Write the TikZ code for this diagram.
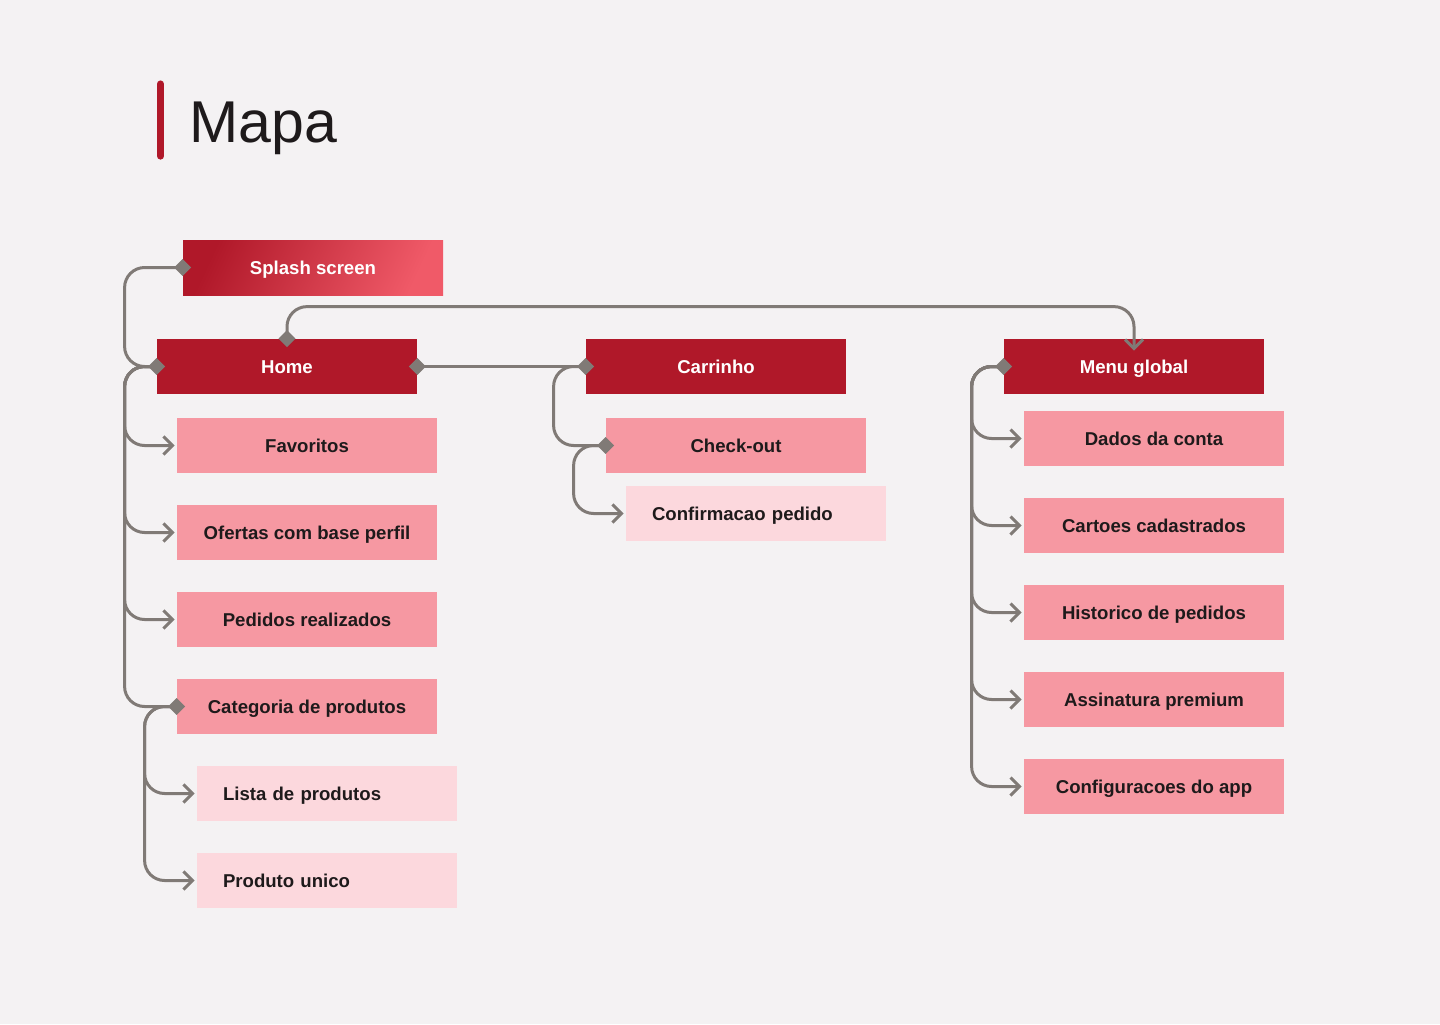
\documentclass[tikz,border=0pt]{standalone}
\usepackage{fontspec}
\setmainfont{Liberation Sans}
\usetikzlibrary{arrows.meta}
\definecolor{bgpaper}{RGB}{244,242,243}
\definecolor{darkred}{RGB}{176,24,41}
\definecolor{splashlight}{RGB}{240,90,104}
\definecolor{midpink}{RGB}{246,152,162}
\definecolor{lightpink}{RGB}{252,216,221}
\definecolor{linkgray}{RGB}{128,122,118}
\definecolor{inkblack}{RGB}{30,26,27}

\begin{document}
\begin{tikzpicture}[x=0.5pt,y=-0.5pt,font=\fontsize{9.3}{11}\selectfont\bfseries,
  box/.style={minimum width=130pt,minimum height=27.5pt,inner sep=0pt,align=center,
    text height=6.7pt,text depth=0pt},
  mainbox/.style={box,fill=darkred,text=white},
  subbox/.style={box,fill=midpink,text=inkblack},
  leafbox/.style={box,fill=lightpink,text=inkblack,text width=104pt,inner xsep=13pt,align=left},
  link/.style={draw=linkgray,line width=1.5pt,rounded corners=10pt},
  linkto/.style={link,-{Straight Barb[length=4.5pt,width=9pt,line width=1.5pt]},shorten >=1pt},
  joint/.style={fill=linkgray,rotate=45,minimum size=6pt,inner sep=0pt}]
\useasboundingbox[fill=bgpaper] (0,0) rectangle (1440,1024);
% title
\draw[darkred,line width=3.6pt,line cap=round] (160.5,84) -- (160.5,156);
\node[anchor=base west,font=\fontsize{29.5}{32}\selectfont,text=inkblack,inner sep=0pt] (title) at (189,142) {Mapa};
% boxes
\node[mainbox,shading=axis,left color=darkred,right color=splashlight,shading angle=65] (splash) at (313,267.5) {Splash screen};
\node[mainbox] (home) at (287,366.5) {Home};
\node[mainbox] (carrinho) at (716,366.5) {Carrinho};
\node[mainbox] (menu) at (1134,366.5) {Menu global};
\node[subbox] (favoritos) at (307,445.5) {Favoritos};
\node[subbox] (ofertas) at (307,532.5) {Ofertas com base perfil};
\node[subbox] (pedidos) at (307,619.5) {Pedidos realizados};
\node[subbox] (categoria) at (307,706.5) {Categoria de produtos};
\node[leafbox] (lista) at (327,793.5) {Lista de produtos};
\node[leafbox] (produto) at (327,880.5) {Produto unico};
\node[subbox] (checkout) at (736,445.5) {Check-out};
\node[leafbox] (confirma) at (756,513.5) {Confirmacao pedido};
\node[subbox] (dados) at (1154,438.5) {Dados da conta};
\node[subbox] (cartoes) at (1154,525.5) {Cartoes cadastrados};
\node[subbox] (historico) at (1154,612.5) {Historico de pedidos};
\node[subbox] (assinatura) at (1154,699.5) {Assinatura premium};
\node[subbox] (config) at (1154,786.5) {Configuracoes do app};
% links
\draw[link] (splash.west) -- ++(-58,0) |- (home.west);
\foreach \n in {favoritos,ofertas,pedidos}
  \draw[linkto] (home.west) -- ++(-32,0) |- (\n.west);
\draw[link] (home.west) -- ++(-32,0) |- (categoria.west);
\foreach \n in {lista,produto}
  \draw[linkto] (categoria.west) -- ++(-32,0) |- (\n.west);
\draw[link] (home.east) -- (carrinho.west);
\draw[link] (carrinho.west) -- ++(-32,0) |- (checkout.west);
\draw[linkto] (checkout.west) -- ++(-32,0) |- (confirma.west);
\draw[linkto,shorten >=-6pt] (home.north) -- ++(0,-32) -| (menu.north);
\foreach \n in {dados,cartoes,historico,assinatura,config}
  \draw[linkto] (menu.west) -- ++(-32,0) |- (\n.west);
% joints
\foreach \p in {splash.west,home.west,home.east,home.north,carrinho.west,
  checkout.west,categoria.west,menu.west}
  \node[joint] at (\p) {};
\end{tikzpicture}
\end{document}
